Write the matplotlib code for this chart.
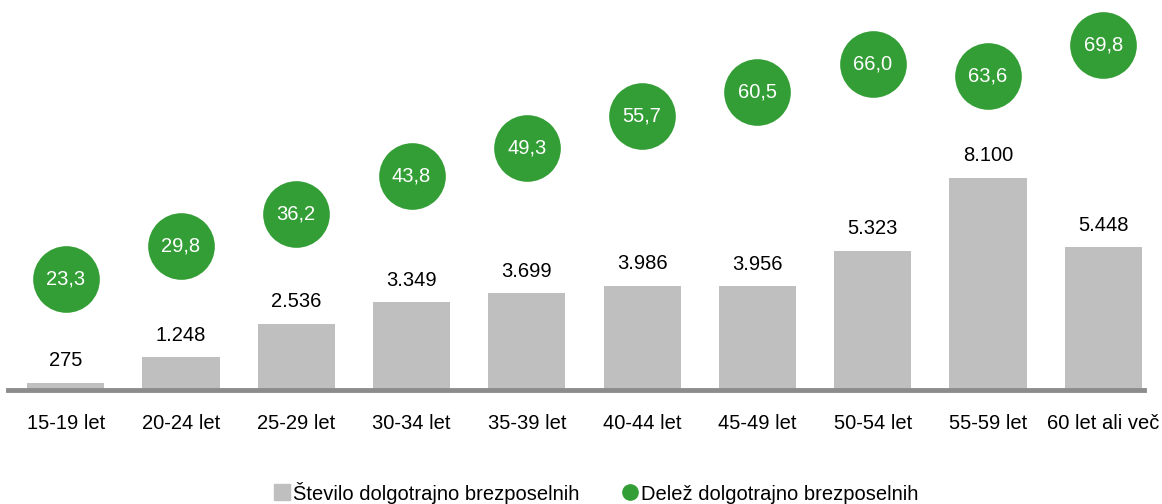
import matplotlib.pyplot as plt
from matplotlib.lines import Line2D

# data
groups = ['15-19 let', '20-24 let', '25-29 let', '30-34 let', '35-39 let',
          '40-44 let', '45-49 let', '50-54 let', '55-59 let', '60 let ali več']
stevilo = [275, 1248, 2536, 3349, 3699, 3986, 3956, 5323, 8100, 5448]
delez = [23.3, 29.8, 36.2, 43.8, 49.3, 55.7, 60.5, 66.0, 63.6, 69.8]

plt.rcParams['font.family'] = ['Liberation Sans', 'DejaVu Sans']

bar_color = '#bfbfbf'
green = '#339e35'
fs = 14.5

fig = plt.figure(figsize=(11.62, 5.04), dpi=100)
ax = fig.add_axes([8 / 1162, 114 / 504, 1153 / 1162, 390 / 504])
x = list(range(len(groups)))

ax.bar(x, stevilo, width=0.67, color=bar_color, zorder=2)
for xi, v in zip(x, stevilo):
    ax.annotate(f'{v:,}'.replace(',', '.'), (xi, v), xytext=(0, 9),
                textcoords='offset points', ha='center', va='bottom', fontsize=fs)

ax.set_xlim(-0.5, 9.5)
ax.set_ylim(0, 14900)
ax.set_xticks(x)
ax.set_xticklabels(groups, fontsize=fs)
ax.tick_params(axis='x', length=0, pad=17)
ax.set_yticks([])
for s in ['top', 'right', 'left']:
    ax.spines[s].set_visible(False)
ax.spines['bottom'].set_color('#8c8c8c')
ax.spines['bottom'].set_linewidth(3.5)
ax.spines['bottom'].set_bounds(-0.5, 9.35)

ax2 = ax.twinx()
ax2.set_ylim(1.2, 78.7)
ax2.plot(x, delez, 'o', color=green, markersize=48, markeredgewidth=0,
         linestyle='none', zorder=3)
for xi, v in zip(x, delez):
    ax2.text(xi, v, f'{v:.1f}'.replace('.', ','), ha='center', va='center',
             color='white', fontsize=fs, zorder=4)
ax2.set_yticks([])
for s in ['top', 'right', 'left', 'bottom']:
    ax2.spines[s].set_visible(False)

handles = [Line2D([], [], marker='s', color=bar_color, linestyle='none', markersize=11),
           Line2D([], [], marker='o', color=green, linestyle='none', markersize=11)]
fig.legend(handles, ['Število dolgotrajno brezposelnih', 'Delež dolgotrajno brezposelnih'],
           loc='lower center', bbox_to_anchor=(0.512, -0.035), ncol=2, frameon=False,
           fontsize=fs, handletextpad=0.05, columnspacing=2.0, handlelength=1.0)

fig.savefig('out.png', dpi=100)
